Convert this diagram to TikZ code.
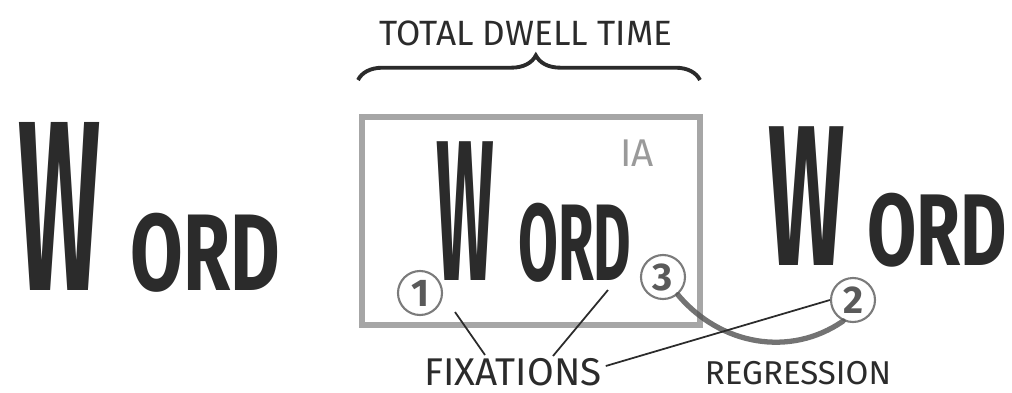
\documentclass[tikz,border=0pt]{standalone}
\usepackage{fontspec}
\setmainfont{Fira Sans}
\usepackage{graphicx}
\usepackage{xcolor}
\usepackage{tikz}
\usetikzlibrary{positioning,calc,decorations.pathreplacing}
\definecolor{inkdark}{HTML}{2B2B2B}
\definecolor{inkgray}{HTML}{5A5A5A}
\definecolor{boxgray}{HTML}{A6A6A6}
\definecolor{pencil}{HTML}{9A9A9A}
\tikzset{
  sk/word/.style={inner sep=0pt, anchor=base west, text=inkdark, font=\bfseries},
  sk/label/.style={inner sep=1pt, text=inkdark, font=\fontsize{11}{11}\selectfont},
  sk/title/.style={sk/label, font=\fontsize{10}{10}\selectfont},
  sk/iabox/.style={draw=boxgray, line width=1.6pt, minimum width=33.8mm, minimum height=20.8mm},
  sk/ialabel/.style={text=pencil, inner sep=0pt, font=\fontsize{11}{11}\selectfont},
  sk/fix/.style={draw=inkgray!80, circle, line width=0.6pt, minimum size=4.4mm, inner sep=0pt, text=inkgray, font=\bfseries\fontsize{11}{11}\selectfont},
  sk/lead/.style={draw=inkdark, line width=0.5pt},
  sk/regr/.style={draw=inkgray, line width=1.5pt, line cap=round, opacity=0.85},
  sk/brace/.style={draw=inkdark, line width=1.1pt, decorate, decoration={brace, amplitude=7pt, aspect=0.52}}
}
% W size, W squeeze, gap, ORD size, ORD squeeze
\newcommand{\handword}[5]{%
  \scalebox{#2}[1]{\fontsize{#1}{#1}\selectfont W}\hspace{#3}%
  \scalebox{#5}[1]{\fontsize{#4}{#4}\selectfont ORD}}

\begin{document}
\begin{tikzpicture}[x=0.1mm, y=-0.1mm]
  \useasboundingbox (0,0) rectangle (1012,392);

  % interest area
  \node[sk/iabox] (ia) at (531,221) {};
  \node[sk/ialabel] (ialbl) at (637,153) {IA};

  % the three words
  \node[sk/word] (wleft) at (18,290) {\handword{69}{0.40}{3mm}{31}{0.70}};
  \node[sk/word] (wmid) at (436,280) {\handword{57}{0.34}{2.4mm}{31}{0.53}};
  \node[sk/word] (wright) at (768,265) {\handword{57}{0.45}{2.2mm}{29}{0.70}};

  % dwell time brace
  \draw[sk/brace] (358,80) -- (700,80);
  \node[sk/title] (title) at (526,33) {TOTAL DWELL TIME};

  % fixations
  \node[sk/fix] (f1) at (420,293) {1};
  \node[sk/fix] (f3) at (663,277) {3};
  \node[sk/fix] (f2) at (853,300) {2};

  \node[sk/label] (fix) at (513,372) {FIXATIONS};
  \node[sk/label, font=\fontsize{9.4}{9.4}\selectfont] (regr) at (798,373) {REGRESSION};

  \draw[sk/regr] (f3.-50) .. controls (720,345) and (790,358) .. (f2.-115);

  \draw[sk/lead] ($(f1)+(35,19)$) -- ($(fix)+(-28,-17)$);
  \draw[sk/lead] ($(f3)+(-55,13)$) -- ($(fix)+(40,-16)$);
  \draw[sk/lead] ($(fix.east)+(0,-6)$) -- (f2.west);
\end{tikzpicture}
\end{document}
